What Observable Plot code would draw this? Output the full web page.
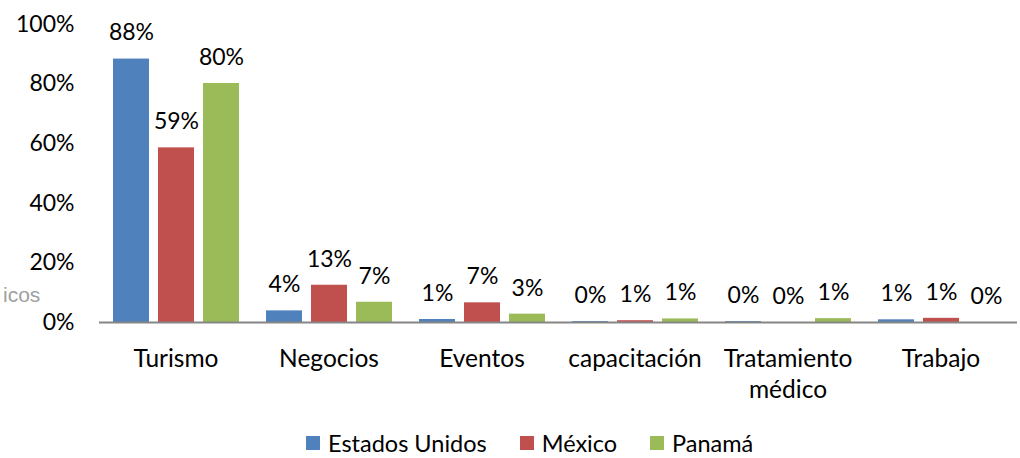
<!DOCTYPE html>
<html>
<head>
<meta charset="utf-8">
<script src="https://cdn.jsdelivr.net/npm/d3@7"></script>
<script src="https://cdn.jsdelivr.net/npm/@observablehq/plot@0.6"></script>
<style>
  html, body { margin: 0; padding: 0; background: #fff; }
  body { width: 1020px; height: 458px; position: relative; overflow: hidden; font-family: Lato, sans-serif; }
  #chart { position: absolute; left: 0; top: 0; }
  #watermark { position: absolute; left: 3px; top: 283px; font-size: 21px; color: #a0a0a0; font-family: "Liberation Sans", sans-serif; }
  #legend { position: absolute; top: 429px; left: 306px; display: flex; align-items: center; font-size: 23.5px; color: #000; }
  #legend .item { display: flex; align-items: center; margin-right: 33px; }
  #legend .sw { width: 14px; height: 14px; margin-right: 8px; }
</style>
</head>
<body>
<div id="chart"></div>
<div id="watermark">icos</div>
<div id="legend"></div>
<script>
const categories = ["Turismo", "Negocios", "Eventos", "capacitación", "Tratamiento\nmédico", "Trabajo"];
const series = ["Estados Unidos", "México", "Panamá"];
const colors = ["#4F81BD", "#C0504D", "#9BBB59"];
const estadosUnidos = [88.4, 3.9, 1.0, 0.3, 0.3, 0.9];
const mexico = [58.6, 12.5, 6.6, 0.6, 0.0, 1.4];
const panama = [80.2, 6.8, 2.8, 1.2, 1.3, 0.0];
const yTicks = [0, 20, 40, 60, 80, 100];

const seriesValues = [estadosUnidos, mexico, panama];
const data = [];
categories.forEach((c, i) => {
  series.forEach((s, j) => {
    data.push({category: c, series: s, value: seriesValues[j][i]});
  });
});

const font = "Lato, sans-serif";
const chart = Plot.plot({
  width: 1020,
  height: 425,
  marginLeft: 97,
  marginRight: 2,
  marginTop: 24,
  marginBottom: 103,
  style: {fontFamily: font, fontSize: "23px", color: "#000", background: "#fff"},
  fx: {domain: categories, padding: 0, label: null, axis: null},
  x: {domain: series, paddingInner: 0.2, paddingOuter: 0.27, axis: null},
  y: {domain: [0, 100], label: null},
  color: {domain: series, range: colors},
  marks: [
    Plot.barY(data, {fx: "category", x: "series", y: "value", fill: "series"}),
    Plot.text(data, {fx: "category", x: "series", y: "value", text: d => Math.round(d.value) + "%",
      dy: -26, lineAnchor: "middle", fontSize: 23, fill: "#000"}),
    Plot.axisY({ticks: yTicks, tickFormat: d => d + "%", tickSize: 0, tickPadding: 25, label: null, fontSize: 23}),
    Plot.axisFx({anchor: "bottom", tickSize: 0, tickPadding: 23, label: null, fontSize: 24.5, lineHeight: 1.25}),
    Plot.ruleY([0], {stroke: "#868686", strokeWidth: 2})
  ]
});
document.getElementById("chart").appendChild(chart);

const legend = document.getElementById("legend");
series.forEach((s, i) => {
  const item = document.createElement("div");
  item.className = "item";
  const sw = document.createElement("div");
  sw.className = "sw";
  sw.style.background = colors[i];
  const t = document.createElement("span");
  t.textContent = s;
  item.appendChild(sw);
  item.appendChild(t);
  legend.appendChild(item);
});
</script>
</body>
</html>
